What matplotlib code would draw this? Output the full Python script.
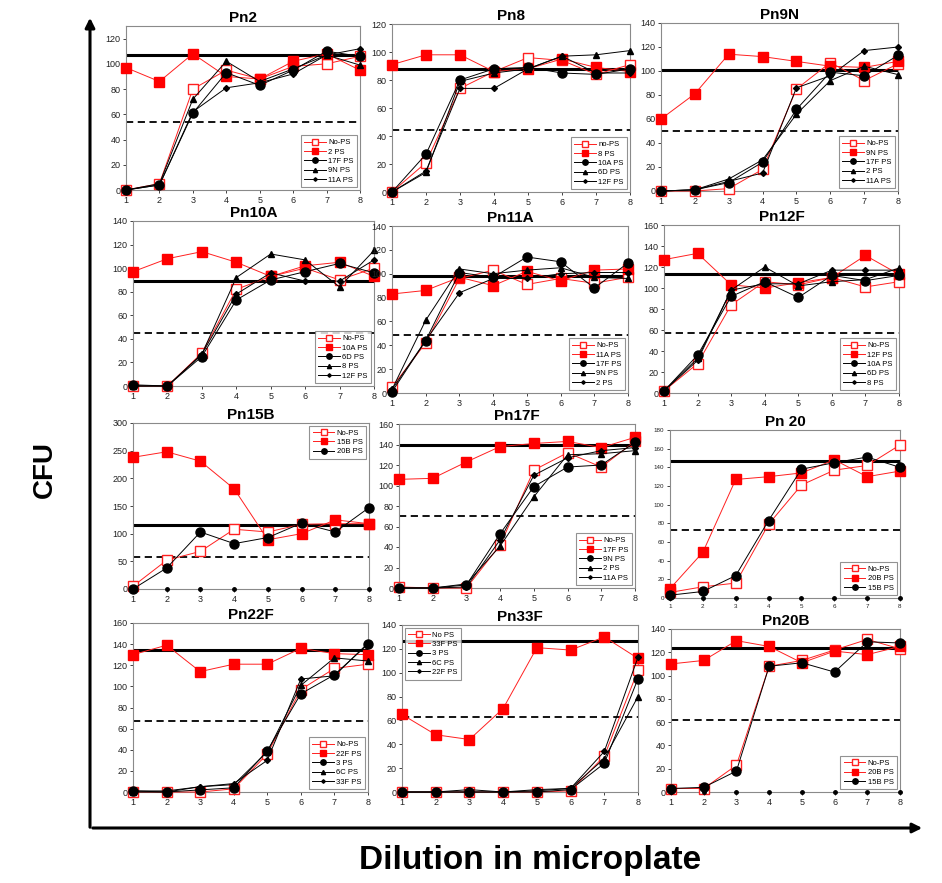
import matplotlib
matplotlib.use("Agg")
import matplotlib.pyplot as plt
import numpy as np

plt.rcParams['font.family'] = ['Liberation Sans', 'DejaVu Sans']

W, H = 942, 883
x = [1, 2, 3, 4, 5, 6, 7, 8]

# ---- data (CFU per dilution) ----
titles = ["Pn2", "Pn8", "Pn9N", "Pn10A", "Pn11A", "Pn12F",
          "Pn15B", "Pn17F", "Pn 20", "Pn22F", "Pn33F", "Pn20B"]

labels_pn2 = ["No-PS", "2 PS", "17F PS", "9N PS", "11A PS"]
pn2 = [[0, 5, 80, 95, 88, 98, 100, 106],
       [97, 86, 108, 90, 88, 102, 108, 95],
       [0, 4, 61, 93, 83, 95, 110, 106],
       [0, 5, 72, 102, 86, 96, 107, 99],
       [0, 4, 62, 81, 85, 92, 107, 112]]

labels_pn8 = ["no-PS", "8 PS", "10A PS", "6D PS", "12F PS"]
pn8 = [[0, 21, 74, 86, 96, 94, 84, 91],
       [91, 98, 98, 86, 88, 95, 89, 86],
       [0, 27, 80, 88, 89, 85, 84, 88],
       [0, 14, 79, 85, 88, 97, 98, 101],
       [0, 15, 74, 74, 88, 97, 85, 85]]

labels_pn9n = ["No-PS", "9N PS", "17F PS", "2 PS", "11A PS"]
pn9n = [[0, 0, 2, 18, 85, 107, 92, 106],
        [60, 81, 114, 112, 108, 104, 103, 108],
        [0, 1, 7, 24, 68, 99, 96, 113],
        [0, 1, 10, 26, 64, 92, 104, 97],
        [0, 1, 8, 15, 86, 96, 117, 120]]

labels_pn10a = ["No-PS", "10A PS", "6D PS", "8 PS", "12F PS"]
pn10a = [[0, 0, 28, 82, 93, 100, 90, 100],
         [97, 108, 114, 105, 93, 102, 105, 93],
         [1, 0, 25, 73, 90, 97, 104, 96],
         [0, 0, 27, 92, 112, 107, 84, 115],
         [0, 0, 27, 78, 96, 89, 89, 107]]

labels_pn11a = ["No-PS", "11A PS", "17F PS", "9N PS", "2 PS"]
pn11a = [[5, 42, 96, 103, 91, 96, 92, 97],
         [83, 86, 97, 90, 102, 94, 103, 104],
         [1, 44, 101, 97, 114, 110, 88, 109],
         [3, 61, 104, 100, 103, 105, 97, 96],
         [3, 44, 84, 96, 96, 100, 101, 101]]

labels_pn12f = ["No-PS", "12F PS", "10A PS", "6D PS", "8 PS"]
pn12f = [[2, 28, 84, 106, 103, 110, 101, 106],
         [127, 133, 103, 100, 105, 110, 131, 113],
         [2, 36, 92, 106, 91, 112, 107, 112],
         [2, 33, 98, 120, 102, 106, 108, 119],
         [2, 31, 98, 104, 104, 117, 117, 117]]

labels_pn15b = ["No-PS", "15B PS", "20B PS"]
pn15b = [[5, 52, 68, 108, 103, 117, 118, 118],
         [238, 248, 231, 181, 89, 100, 125, 118],
         [0, 38, 103, 82, 93, 119, 103, 147]]

labels_pn17f = ["No-PS", "17F PS", "9N PS", "2 PS", "11A PS"]
pn17f = [[1, 0, 0, 42, 115, 132, 118, 143],
         [106, 107, 123, 138, 141, 143, 137, 147],
         [0, 0, 3, 53, 99, 118, 120, 142],
         [0, 0, 4, 41, 89, 130, 131, 134],
         [0, 0, 1, 47, 110, 127, 134, 137]]

labels_pn20 = ["No-PS", "20B PS", "15B PS"]
pn20 = [[6, 12, 16, 79, 121, 137, 142, 164],
        [10, 49, 127, 130, 134, 148, 130, 136],
        [3, 7, 24, 83, 138, 145, 151, 140]]

labels_pn22f = ["No-PS", "22F PS", "3 PS", "6C PS", "33F PS"]
pn22f = [[0, 0, 0, 3, 36, 97, 117, 121],
         [130, 139, 114, 121, 121, 136, 131, 130],
         [1, 0, 2, 4, 39, 93, 111, 140],
         [0, 0, 5, 7, 38, 101, 127, 124],
         [1, 1, 5, 8, 30, 107, 110, 141]]

labels_pn33f = ["No PS", "33F PS", "3 PS", "6C PS", "22F PS"]
pn33f = [[0, 0, 0, 0, 0, 1, 30, 102],
         [65, 48, 44, 70, 121, 119, 130, 112],
         [0, 0, 0, 0, 0, 2, 24, 95],
         [0, 0, 2, 0, 2, 3, 28, 80],
         [0, 0, 0, 0, 1, 3, 34, 113]]

labels_pn20b = ["No-PS", "20B PS", "15B PS"]
pn20b = [[3, 3, 23, 108, 113, 122, 131, 123],
         [110, 113, 130, 125, 111, 121, 118, 125],
         [3, 4, 18, 108, 111, 103, 129, 128]]

# reference (mean) lines and half lines
ref_lines = [107, 88, 101, 89, 98, 113, 116, 140, 147, 134, 127, 124]
half_lines = [54, 44, 50, 45, 49, 57, 58, 70, 73, 67, 63, 62]
ymax = [130, 120, 140, 140, 140, 160, 300, 160, 180, 160, 140, 140]
ystep = [20, 20, 20, 20, 20, 20, 50, 20, 20, 20, 20, 20]
zero_row = [False] * 6 + [True, False, True, False, False, True]

datasets = [pn2, pn8, pn9n, pn10a, pn11a, pn12f, pn15b, pn17f, pn20, pn22f, pn33f, pn20b]
labelsets = [labels_pn2, labels_pn8, labels_pn9n, labels_pn10a, labels_pn11a, labels_pn12f,
             labels_pn15b, labels_pn17f, labels_pn20, labels_pn22f, labels_pn33f, labels_pn20b]
legend_locs = ["lower right"] * 6 + ["upper right", "lower right", "lower right",
                                      "lower right", "upper left", "lower right"]

# panel boxes in pixels (left, top, right, bottom)
boxes = [(126, 26, 360, 190), (392, 24, 630, 192), (661, 23, 898, 191),
         (133, 221, 374, 386), (392, 226, 628, 393), (664, 225, 899, 393),
         (133, 423, 369, 589), (399, 424, 635, 588), (670, 430, 900, 598),
         (133, 623, 368, 792), (402, 625, 638, 792), (671, 629, 900, 792)]

styles = [dict(color='#ff2020', marker='s', mfc='white', mec='#ff2020', ms=7, lw=0.7),
          dict(color='#ff2020', marker='s', mfc='#ff0000', mec='#ff0000', ms=7, lw=0.7),
          dict(color='black', marker='o', mfc='black', mec='black', ms=6.5, lw=0.7),
          dict(color='black', marker='^', mfc='black', mec='black', ms=5, lw=0.7),
          dict(color='black', marker='D', mfc='black', mec='black', ms=3, lw=0.7)]

fig = plt.figure(figsize=(W / 100, H / 100), dpi=100)

for i in range(12):
    l, t, r, b = boxes[i]
    ax = fig.add_axes([l / W, 1 - b / H, (r - l) / W, (b - t) / H])
    small = (i == 8)
    for j, ser in enumerate(datasets[i]):
        ax.plot(x, ser, label=labelsets[i][j], clip_on=False, zorder=3 + j, **styles[j])
    if zero_row[i]:
        ax.plot(x, [0] * 8, color='black', marker='o', ms=2.5, lw=0, clip_on=False, zorder=10)
    ax.axhline(ref_lines[i], color='black', lw=2.2, zorder=2)
    ax.axhline(half_lines[i], color='black', lw=1.3, ls=(0, (4, 2.5)), zorder=2)
    ax.set_xlim(1, 8)
    ax.set_ylim(0, ymax[i])
    ax.set_xticks(x)
    ax.set_yticks(np.arange(0, ymax[i] + 1, ystep[i]))
    fs = 4.5 if small else 6.5
    ax.tick_params(labelsize=fs, length=2.5, width=0.6, pad=1.5, colors='#222222')
    for s in ax.spines.values():
        s.set_color('#8a8a8a')
        s.set_linewidth(0.8)
    ax.set_title(titles[i], fontsize=11, fontweight='bold', pad=3)
    leg = ax.legend(loc=legend_locs[i], fontsize=5.5, frameon=True, fancybox=False,
                    handlelength=2.8, handletextpad=0.3, labelspacing=0.25,
                    borderpad=0.5, borderaxespad=0.35, markerscale=0.6)
    leg.get_frame().set_edgecolor('#777777')
    leg.get_frame().set_linewidth(0.8)
    leg.set_zorder(20)

# big outer axes arrows
fig.add_artist(matplotlib.patches.FancyArrowPatch((90 / W, 1 - 830 / H), (90 / W, 1 - 15 / H),
               transform=fig.transFigure, arrowstyle='-|>', mutation_scale=14, lw=2.2, color='black'))
fig.add_artist(matplotlib.patches.FancyArrowPatch((90 / W, 1 - 828 / H), (925 / W, 1 - 828 / H),
               transform=fig.transFigure, arrowstyle='-|>', mutation_scale=14, lw=2.2, color='black'))

fig.text(45 / W, 1 - 470 / H, "CFU", rotation=90, fontsize=20, fontweight='bold',
         ha='center', va='center')
fig.text(530 / W, 1 - 860 / H, "Dilution in microplate", fontsize=24, fontweight='bold',
         ha='center', va='center')

fig.savefig("out.png", dpi=100)
